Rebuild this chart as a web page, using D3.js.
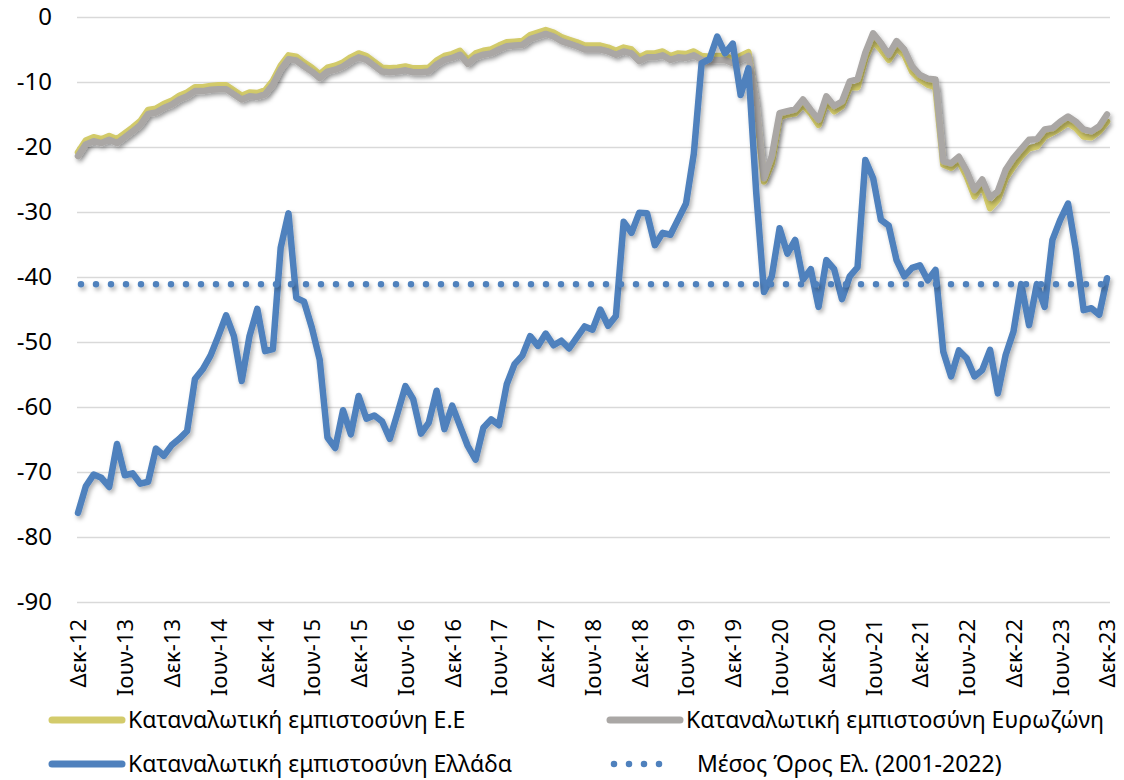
<!DOCTYPE html>
<meta charset="utf-8">
<script src="https://d3js.org/d3.v7.min.js"></script>
<style>
    body { margin: 0; background: #fff; }
    svg text { font-family: "Noto Sans", sans-serif; fill: #000; }
    .axis path, .axis line { display: none; }
    .grid line { stroke: #d9d9d9; stroke-width: 1.5; }
    .grid path { display: none; }
</style>
<body>
<script>

// months Dec-12 .. Dec-23
var startMonth = new Date(Date.UTC(2012, 11, 1));
var months = d3.utcMonth.range(startMonth, new Date(Date.UTC(2024, 0, 1)));

var tickLabels = ["Δεκ-12", "Ιουν-13", "Δεκ-13", "Ιουν-14", "Δεκ-14", "Ιουν-15", "Δεκ-15", "Ιουν-16",
    "Δεκ-16", "Ιουν-17", "Δεκ-17", "Ιουν-18", "Δεκ-18", "Ιουν-19", "Δεκ-19", "Ιουν-20", "Δεκ-20",
    "Ιουν-21", "Δεκ-21", "Ιουν-22", "Δεκ-22", "Ιουν-23", "Δεκ-23"];

var yTicks = [0, -10, -20, -30, -40, -50, -60, -70, -80, -90];

// Καταναλωτική εμπιστοσύνη Ε.Ε
var euValues = [
    -20.8, -19.0, -18.5, -18.8, -18.3, -18.8, -17.9, -17.0, -16.0, -14.3, -14.1, -13.4,
    -12.9, -12.1, -11.6, -10.8, -10.8, -10.6, -10.5, -10.5, -11.3, -12.1, -11.6, -11.7,
    -11.3, -9.8, -7.5, -5.9, -6.1, -7.0, -7.8, -8.8, -7.8, -7.5, -7.0, -6.2,
    -5.6, -6.0, -6.9, -7.8, -7.9, -7.8, -7.6, -7.9, -7.9, -7.8, -6.7, -6.0,
    -5.7, -5.2, -6.6, -5.6, -5.2, -5.0, -4.4, -3.9, -3.8, -3.7, -2.8, -2.4,
    -2.0, -2.4, -3.1, -3.5, -3.9, -4.4, -4.4, -4.4, -4.7, -5.2, -4.7, -5.0,
    -6.2, -5.6, -5.6, -5.3, -6.0, -5.6, -5.7, -5.3, -6.0, -6.1, -6.0, -6.0,
    -6.5, -6.0, -5.4, -13.8, -25.3, -22.5, -15.4, -15.0, -14.8, -13.5, -14.8, -16.6,
    -13.0, -14.5, -13.7, -10.8, -10.8, -6.3, -3.7, -5.0, -6.6, -4.8, -5.8, -8.4,
    -9.6, -10.4, -10.8, -22.7, -23.2, -22.2, -24.5, -27.6, -25.8, -29.4, -28.1, -24.8,
    -23.0, -21.4, -20.2, -19.9, -18.4, -17.8, -17.1, -16.3, -17.1, -18.4, -18.5, -17.6,
    -16.1
];

// Καταναλωτική εμπιστοσύνη Ευρωζώνη
var ezValues = [
    -21.4, -19.6, -19.1, -19.4, -18.9, -19.4, -18.5, -17.6, -16.6, -14.9, -14.7, -14.0,
    -13.5, -12.7, -12.2, -11.4, -11.4, -11.2, -11.1, -11.1, -11.9, -12.7, -12.2, -12.3,
    -11.9, -10.4, -8.1, -6.5, -6.7, -7.6, -8.4, -9.4, -8.4, -8.1, -7.6, -6.8,
    -6.2, -6.6, -7.5, -8.4, -8.5, -8.4, -8.2, -8.5, -8.5, -8.4, -7.3, -6.6,
    -6.3, -5.8, -7.2, -6.2, -5.8, -5.6, -5.0, -4.5, -4.4, -4.3, -3.4, -3.0,
    -2.6, -3.0, -3.7, -4.1, -4.5, -5.0, -5.0, -5.0, -5.3, -5.8, -5.3, -5.6,
    -6.8, -6.2, -6.2, -5.9, -6.6, -6.2, -6.3, -5.9, -6.6, -6.7, -6.6, -6.6,
    -7.1, -6.6, -6.0, -13.0, -24.8, -21.4, -14.8, -14.5, -14.2, -12.7, -14.3, -15.8,
    -12.2, -13.7, -13.0, -9.9, -9.6, -5.5, -2.5, -4.0, -5.8, -3.7, -5.0, -7.6,
    -8.9, -9.5, -9.6, -22.2, -22.5, -21.5, -23.7, -26.6, -25.0, -27.8, -26.8, -23.5,
    -21.7, -20.3, -18.9, -18.8, -17.3, -17.1, -16.1, -15.3, -16.1, -17.3, -17.6, -16.8,
    -15.0
];

// Καταναλωτική εμπιστοσύνη Ελλάδα
var grValues = [
    -76.3, -72.2, -70.4, -70.9, -72.3, -65.7, -70.5, -70.2, -71.8, -71.5, -66.4, -67.5,
    -65.9, -64.9, -63.7, -55.7, -54.2, -52.1, -49.1, -45.9, -49.1, -56.0, -49.1, -44.9,
    -51.4, -51.1, -35.5, -30.2, -43.2, -43.8, -47.8, -52.7, -64.7, -66.3, -60.5, -64.2,
    -58.3, -61.8, -61.3, -62.2, -64.9, -60.9, -56.8, -58.8, -64.1, -62.4, -57.5, -63.4,
    -59.8, -62.9, -66.0, -68.1, -63.2, -61.9, -62.8, -56.5, -53.4, -52.1, -49.1, -50.6,
    -48.7, -50.5, -49.8, -51.0, -49.3, -47.6, -48.1, -45.0, -47.5, -46.0, -31.5, -33.2,
    -30.1, -30.2, -35.1, -33.2, -33.5, -31.1, -28.7, -21.0, -7.1, -6.5, -3.0, -5.6,
    -4.1, -12.0, -7.9, -27.0, -42.3, -39.9, -32.5, -36.4, -34.3, -40.4, -38.8, -44.6,
    -37.4, -38.8, -43.4, -39.9, -38.5, -22.0, -24.8, -31.2, -32.1, -37.4, -39.9, -38.6,
    -38.2, -40.5, -38.9, -51.5, -55.3, -51.3, -52.5, -55.3, -54.3, -51.2, -57.9, -52.0,
    -48.4, -41.1, -47.4, -41.1, -44.6, -34.3, -31.2, -28.7, -35.8, -45.1, -44.8, -45.8,
    -40.2
];

// Μέσος Όρος Ελ. (2001-2022)
var grAverage = -41.1;

var seriesNames = ["Καταναλωτική εμπιστοσύνη Ε.Ε", "Καταναλωτική εμπιστοσύνη Ευρωζώνη",
    "Καταναλωτική εμπιστοσύνη Ελλάδα", "Μέσος Όρος Ελ. (2001-2022)"];
var seriesColors = ["#d3cb6b", "#aaa7a5", "#4f81bd", "#4f81bd"];

var width = 1124, height = 780;

var svg = d3.select("body").append("svg")
    .attr("width", width)
    .attr("height", height);

// drop shadow for the lines (user space so the flat dotted line keeps it)
var defs = svg.append("defs");
defs.append("filter")
    .attr("id", "shadow")
    .attr("filterUnits", "userSpaceOnUse")
    .attr("x", 0).attr("y", 0)
    .attr("width", width).attr("height", height)
    .append("feDropShadow")
    .attr("dx", 2).attr("dy", 3)
    .attr("stdDeviation", 2)
    .attr("flood-color", "#000")
    .attr("flood-opacity", 0.3);

var xScale = d3.scalePoint()
    .domain(d3.range(months.length))
    .range([78, 1107]);

var yScale = d3.scaleLinear()
    .domain([-90, 0])
    .range([602, 17]);

// gridlines
svg.append("g")
    .attr("class", "grid")
    .attr("transform", "translate(1110,0)")
    .call(d3.axisLeft(yScale).tickValues(yTicks).tickSize(1033).tickFormat(""));

// y axis (plain hyphen minus like the original)
var yAxisGroup = svg.append("g")
    .attr("class", "y axis")
    .attr("transform", "translate(60,0)")
    .call(d3.axisLeft(yScale)
        .tickValues(yTicks)
        .tickSize(0)
        .tickPadding(8)
        .tickFormat(function(d) { return String(d); }));

yAxisGroup.selectAll("text")
    .style("font-size", "24px")
    .style("font-family", "'Noto Sans', sans-serif")
    .attr("fill", "#000");

// x axis - label every 6 months
var xTickIdx = d3.range(0, months.length, 6);
var xAxis = d3.axisBottom(xScale)
    .tickValues(xTickIdx)
    .tickSize(0)
    .tickFormat(function(d, i) { return tickLabels[i]; });

var xAxisGroup = svg.append("g")
    .attr("class", "x axis")
    .attr("transform", "translate(0,612)")
    .call(xAxis);

xAxisGroup.selectAll("text")
    .attr("transform", "rotate(-90)")
    .attr("x", -7)
    .attr("y", 0)
    .attr("dy", "0.36em")
    .style("text-anchor", "end")
    .style("font-size", "22px")
    .style("font-family", "'Noto Sans', sans-serif")
    .attr("fill", "#000");

var line = d3.line()
    .x(function(d, i) { return xScale(i); })
    .y(function(d) { return yScale(d); });

var plotSeries = [euValues, ezValues, grValues];

svg.selectAll(".series")
    .data(plotSeries)
    .enter()
    .append("path")
    .attr("class", "series")
    .attr("d", line)
    .attr("fill", "none")
    .attr("stroke", function(d, i) { return seriesColors[i]; })
    .attr("stroke-width", 6.5)
    .attr("stroke-linejoin", "round")
    .attr("stroke-linecap", "round")
    .attr("filter", "url(#shadow)");

// average dotted line
svg.append("line")
    .attr("x1", xScale(0) + 3)
    .attr("x2", xScale(months.length - 1))
    .attr("y1", yScale(grAverage))
    .attr("y2", yScale(grAverage))
    .attr("stroke", seriesColors[3])
    .attr("stroke-width", 6.5)
    .attr("stroke-linecap", "round")
    .attr("stroke-dasharray", "0 15")
    .attr("filter", "url(#shadow)");

// legend
var legendItems = [
    {x: 52, y: 720, w: 70, textX: 128, dotted: false},
    {x: 610, y: 720, w: 70, textX: 686, dotted: false},
    {x: 52, y: 764, w: 70, textX: 128, dotted: false},
    {x: 614, y: 764, w: 60, textX: 697, dotted: true}
];

var legend = svg.append("g").attr("class", "legend");

legendItems.forEach(function(item, i) {
    var ln = legend.append("line")
        .attr("x1", item.x)
        .attr("x2", item.x + item.w)
        .attr("y1", item.y)
        .attr("y2", item.y)
        .attr("stroke", seriesColors[i])
        .attr("stroke-linecap", "round");
    if (item.dotted) {
        ln.attr("stroke-width", 6.5).attr("stroke-dasharray", "0 15");
    } else {
        ln.attr("stroke-width", 7);
    }
    legend.append("text")
        .attr("x", item.textX)
        .attr("y", item.y)
        .attr("dy", "0.36em")
        .style("font-size", "23px")
        .text(seriesNames[i]);
});

</script>
</body>
